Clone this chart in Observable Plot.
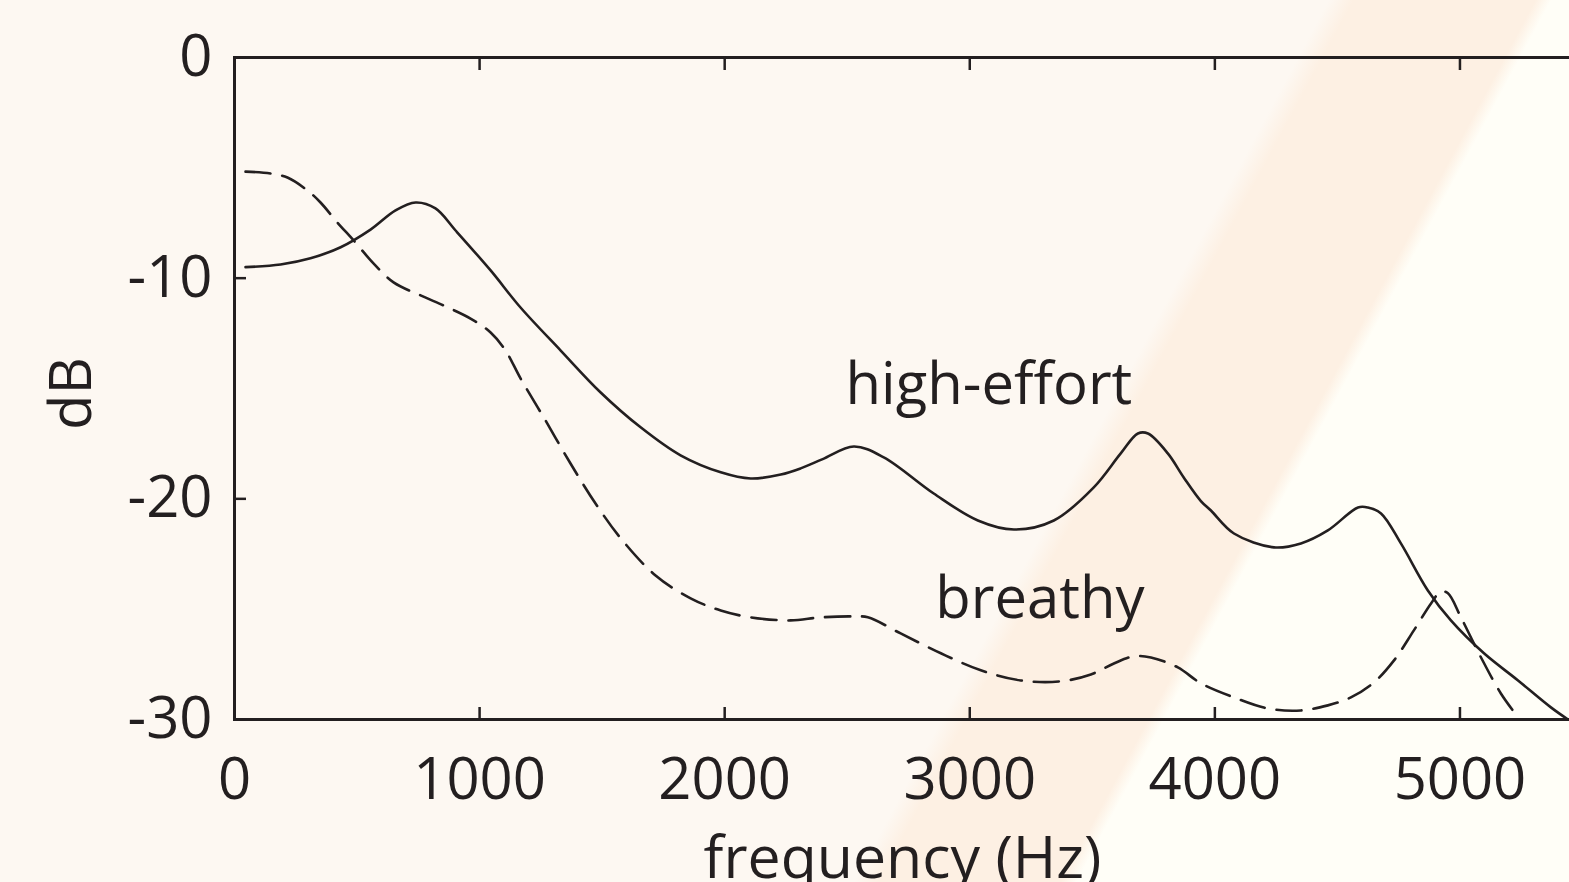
<!DOCTYPE html>
<html>
<head>
<meta charset="utf-8">
<script src="https://cdn.jsdelivr.net/npm/d3@7"></script>
<script src="https://cdn.jsdelivr.net/npm/@observablehq/plot@0.6"></script>
<style>
  html, body { margin: 0; padding: 0; overflow: hidden; }
  body {
    width: 1569px; height: 882px;
    background: linear-gradient(118.3deg,
      #fdf8f2 0px, #fdf8f2 1170px, #fdf0e3 1192px, #fdf0e3 1352px, #fffef7 1366px, #fffef7 100%);
  }
  #chart svg { display: block; }
</style>
</head>
<body>
<div id="chart"></div>
<script>
// Spectral envelopes (frequency in Hz, level in dB)
const highEffortFreq = [45, 188, 310, 433, 555, 657, 739, 820, 902, 1045, 1167, 1331, 1494, 1657, 1820, 1984, 2106, 2229, 2310, 2400, 2527, 2649, 2853, 3033, 3180, 3343, 3506, 3616, 3686, 3727, 3808, 3873, 3943, 3984, 4078, 4241, 4351, 4461, 4584, 4624, 4678, 4759, 4869, 4963, 5098, 5237, 5371, 5441];
const highEffortDb   = [-9.5, -9.38, -9.1, -8.6, -7.8, -6.93, -6.57, -6.84, -7.84, -9.65, -11.33, -13.28, -15.18, -16.76, -18.03, -18.8, -19.08, -18.9, -18.62, -18.2, -17.63, -18.12, -19.76, -20.98, -21.39, -20.98, -19.48, -17.94, -17.04, -17.04, -17.94, -19.03, -20.1, -20.53, -21.57, -22.2, -22.02, -21.43, -20.39, -20.39, -20.66, -22.02, -24.15, -25.51, -27.0, -28.23, -29.45, -30.0];

const breathyFreq = [45, 147, 216, 298, 351, 420, 486, 567, 649, 759, 861, 963, 1045, 1106, 1167, 1269, 1371, 1473, 1576, 1718, 1861, 1984, 2106, 2269, 2392, 2527, 2584, 2718, 2882, 3045, 3208, 3371, 3494, 3588, 3669, 3739, 3849, 3943, 4078, 4216, 4351, 4461, 4555, 4649, 4731, 4812, 4882, 4922, 4951, 5004, 5086, 5167, 5237];
const breathyDb   = [-5.17, -5.26, -5.44, -6.03, -6.57, -7.48, -8.29, -9.33, -10.19, -10.78, -11.28, -11.83, -12.46, -13.28, -14.54, -16.45, -18.4, -20.21, -21.79, -23.47, -24.51, -25.06, -25.37, -25.51, -25.37, -25.33, -25.37, -26.1, -27.0, -27.77, -28.23, -28.27, -27.96, -27.46, -27.14, -27.19, -27.64, -28.36, -29.0, -29.5, -29.59, -29.36, -29.0, -28.32, -27.32, -25.96, -24.74, -24.2, -24.28, -25.37, -27.19, -28.82, -29.9];

const xTicks = [0, 1000, 2000, 3000, 4000, 5000];
const yTicks = [-30, -20, -10, 0];
const seriesLabels = ["high-effort", "breathy"];
const labelFreq = [3078, 3286];
const labelDb = [-15.68, -25.42];

const ink = "#231f20";
const font = "'Open Sans', 'Noto Sans', sans-serif";

const highEffort = highEffortFreq.map((f, i) => ({f, db: highEffortDb[i]}));
const breathy = breathyFreq.map((f, i) => ({f, db: breathyDb[i]}));
const labels = seriesLabels.map((t, i) => ({t, f: labelFreq[i], db: labelDb[i]}));

const chart = Plot.plot({
  width: 1569,
  height: 882,
  marginLeft: 234,
  marginTop: 57,
  marginBottom: 163,
  marginRight: -13,
  style: {background: "transparent", overflow: "hidden", fontFamily: font, fontSize: "58px", color: ink},
  x: {domain: [0, 5500], axis: null},
  y: {domain: [-30, 0], axis: null},
  marks: [
    Plot.frame({stroke: ink, strokeWidth: 3}),
    Plot.axisX({anchor: "bottom", ticks: xTicks, tickSize: -12, tickPadding: 50, strokeWidth: 2.5, stroke: ink, fill: ink, fontSize: 58, tickFormat: d => String(d), label: null}),
    Plot.axisX({anchor: "top", ticks: xTicks, tickSize: -12, strokeWidth: 2.5, stroke: ink, tickFormat: () => "", label: null}),
    Plot.axisY({anchor: "left", ticks: yTicks, tickSize: -12, tickPadding: 34, strokeWidth: 2.5, stroke: ink, fill: ink, fontSize: 58, tickFormat: d => String(d), label: null}),
    Plot.axisY({anchor: "right", ticks: yTicks, tickSize: -12, strokeWidth: 2.5, stroke: ink, tickFormat: () => "", label: null}),
    Plot.line(highEffort, {x: "f", y: "db", stroke: ink, strokeWidth: 2.6, curve: "catmull-rom"}),
    Plot.line(breathy, {x: "f", y: "db", stroke: ink, strokeWidth: 2.6, strokeDasharray: "25,12", curve: "catmull-rom"}),
    Plot.text(labels, {x: "f", y: "db", text: "t", fill: ink, fontSize: 58, textAnchor: "middle", lineAnchor: "bottom"}),
    Plot.text(["frequency (Hz)"], {frameAnchor: "bottom", textAnchor: "middle", dx: -6, dy: 158, lineAnchor: "bottom", fill: ink, fontSize: 59}),
    Plot.text(["dB"], {frameAnchor: "left", textAnchor: "middle", rotate: -90, dx: -144, dy: 5, lineAnchor: "bottom", fill: ink, fontSize: 58})
  ]
});
document.getElementById("chart").appendChild(chart);
</script>
</body>
</html>
